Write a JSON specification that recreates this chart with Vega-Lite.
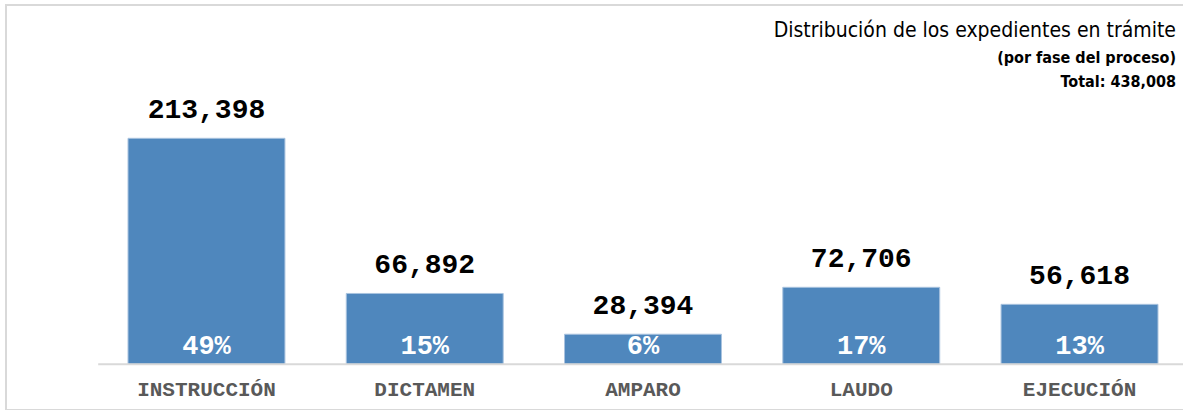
{
  "$schema": "https://vega.github.io/schema/vega-lite/v6.json",
  "width": 1274,
  "height": 405,
  "autosize": {"type": "none"},
  "padding": {"left": 6, "top": 5, "right": 0, "bottom": 0},
  "background": "white",
  "config": {"view": {"stroke": "#d9d9d9", "strokeWidth": 2}},
  "title": {
    "text": "Distribución de los expedientes en trámite",
    "subtitle": ["(por fase del proceso)", "Total: 438,008"],
    "anchor": "end",
    "frame": "group",
    "orient": "top",
    "offset": -85,
    "dx": -104,
    "font": "DejaVu Sans Condensed, sans-serif",
    "fontSize": 21,
    "fontWeight": "normal",
    "color": "#000000",
    "subtitleFont": "DejaVu Sans Condensed, sans-serif",
    "subtitleFontSize": 16,
    "subtitleFontWeight": "bold",
    "subtitleColor": "#000000",
    "subtitlePadding": 9,
    "subtitleLineHeight": 24
  },
  "data": {
    "values": [
      {"fase": "INSTRUCCIÓN", "valor": 213398, "pct": 0.49},
      {"fase": "DICTAMEN", "valor": 66892, "pct": 0.15},
      {"fase": "AMPARO", "valor": 28394, "pct": 0.06},
      {"fase": "LAUDO", "valor": 72706, "pct": 0.17},
      {"fase": "EJECUCIÓN", "valor": 56618, "pct": 0.13}
    ]
  },
  "encoding": {
    "x": {
      "field": "fase",
      "type": "nominal",
      "sort": null,
      "scale": {"paddingInner": 0.281, "paddingOuter": 0.559},
      "axis": {
        "orient": "bottom",
        "offset": -46,
        "domain": false,
        "ticks": false,
        "grid": false,
        "title": null,
        "labelAngle": 0,
        "labelFont": "Liberation Mono",
        "labelFontWeight": "bold",
        "labelFontSize": 21,
        "labelColor": "#595959",
        "labelPadding": 14
      }
    }
  },
  "layer": [
    {
      "mark": {"type": "bar", "color": "#4f87bd", "stroke": "#a9c3df", "strokeWidth": 1},
      "encoding": {
        "y": {
          "field": "valor",
          "type": "quantitative",
          "scale": {"domain": [-43150, 339260], "nice": false, "zero": false},
          "axis": null
        }
      }
    },
    {
      "mark": {"type": "text", "baseline": "alphabetic", "dy": -20, "font": "Liberation Mono", "fontWeight": "bold", "fontSize": 28, "color": "#000000"},
      "encoding": {
        "y": {"field": "valor", "type": "quantitative"},
        "text": {"field": "valor", "type": "quantitative", "format": ","}
      }
    },
    {
      "mark": {"type": "text", "baseline": "alphabetic", "dy": -10, "font": "Liberation Mono", "fontWeight": "bold", "fontSize": 27, "color": "#ffffff"},
      "encoding": {
        "y": {"datum": 0},
        "text": {"field": "pct", "type": "quantitative", "format": ".0%"}
      }
    },
    {
      "transform": [{"filter": "datum.fase == 'INSTRUCCIÓN'"}],
      "mark": {"type": "rule", "color": "#d9d9d9", "strokeWidth": 2},
      "encoding": {
        "x": {"datum": "INSTRUCCIÓN", "bandPosition": -0.19},
        "x2": {"datum": "EJECUCIÓN", "bandPosition": 1.5},
        "y": {"datum": 0}
      }
    }
  ]
}
